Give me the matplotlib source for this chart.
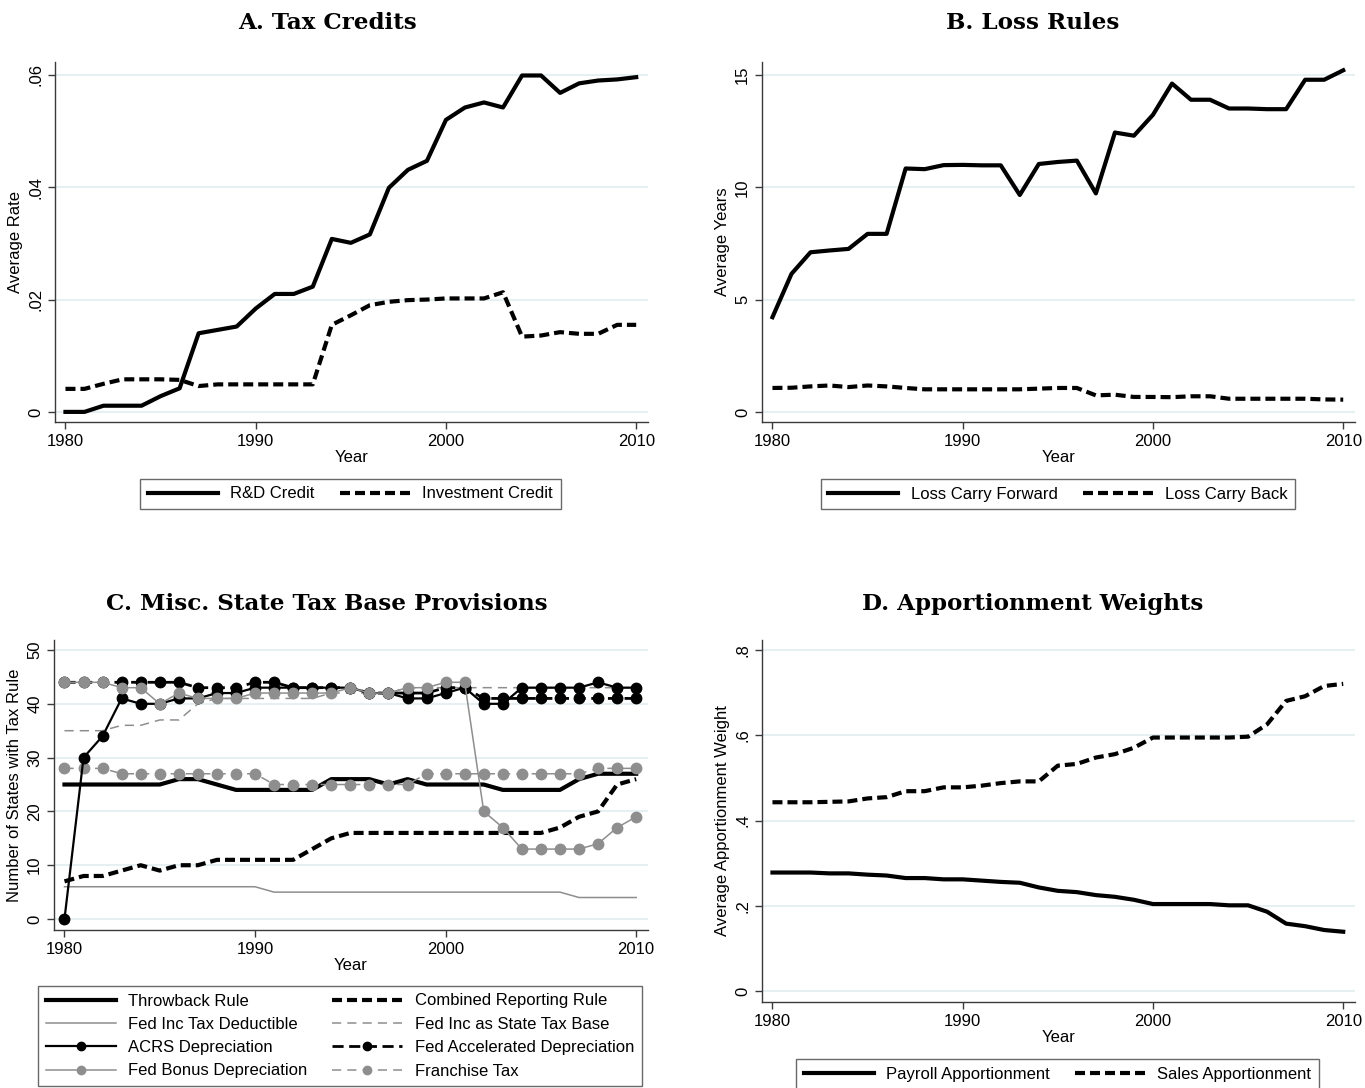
import numpy as np
import matplotlib
matplotlib.use('Agg')
import matplotlib.pyplot as plt

plt.rcParams['font.family'] = ['Liberation Sans', 'DejaVu Sans']

years = np.arange(1980, 2011)

# A. Tax Credits
rd_credit = [0.0, 0.0, 0.0011, 0.0011, 0.0011, 0.0028, 0.0042, 0.0140, 0.0146, 0.0152,
             0.0184, 0.0210, 0.0210, 0.0223, 0.0308, 0.0301, 0.0316, 0.0399, 0.0431, 0.0447,
             0.0520, 0.0542, 0.0551, 0.0542, 0.0599, 0.0599, 0.0568, 0.0585, 0.0590, 0.0592,
             0.0596]
inv_credit = [0.0041, 0.0041, 0.0050, 0.0058, 0.0058, 0.0058, 0.0057, 0.0046, 0.0049, 0.0049,
              0.0049, 0.0049, 0.0049, 0.0049, 0.0155, 0.0172, 0.0190, 0.0196, 0.0199, 0.0200,
              0.0202, 0.0202, 0.0202, 0.0213, 0.0134, 0.0136, 0.0142, 0.0139, 0.0139, 0.0155,
              0.0155]

# B. Loss Rules
loss_fwd = [4.22, 6.15, 7.11, 7.19, 7.26, 7.93, 7.93, 10.84, 10.81, 10.99,
            11.00, 10.98, 10.98, 9.66, 11.04, 11.13, 11.19, 9.73, 12.44, 12.30,
            13.23, 14.62, 13.90, 13.90, 13.51, 13.51, 13.48, 13.48, 14.79, 14.79,
            15.21]
loss_back = [1.07, 1.08, 1.14, 1.18, 1.11, 1.18, 1.14, 1.07, 1.01, 1.01,
             1.01, 1.01, 1.01, 1.01, 1.04, 1.07, 1.07, 0.74, 0.77, 0.67,
             0.67, 0.66, 0.70, 0.70, 0.59, 0.59, 0.59, 0.59, 0.59, 0.56,
             0.55]

# C. Misc. State Tax Base Provisions
throwback = [25, 25, 25, 25, 25, 25, 26, 26, 25, 24,
             24, 24, 24, 24, 26, 26, 26, 25, 26, 25,
             25, 25, 25, 24, 24, 24, 24, 26, 27, 27,
             27]
combined = [7, 8, 8, 9, 10, 9, 10, 10, 11, 11,
            11, 11, 11, 13, 15, 16, 16, 16, 16, 16,
            16, 16, 16, 16, 16, 16, 17, 19, 20, 25,
            26]
fedinc_deduct = [6, 6, 6, 6, 6, 6, 6, 6, 6, 6,
                 6, 5, 5, 5, 5, 5, 5, 5, 5, 5,
                 5, 5, 5, 5, 5, 5, 5, 4, 4, 4,
                 4]
fedinc_base = [35, 35, 35, 36, 36, 37, 37, 40, 41, 41,
               41, 41, 41, 41, 42, 42, 42, 42, 43, 43,
               43, 43, 43, 43, 43, 43, 43, 43, 43, 43,
               43]
acrs = [0, 30, 34, 41, 40, 40, 41, 41, 42, 42,
        43, 43, 43, 43, 43, 43, 42, 42, 41, 41,
        42, 43, 40, 40, 43, 43, 43, 43, 44, 43,
        43]
fed_accel = [44, 44, 44, 44, 44, 44, 44, 43, 43, 43,
             44, 44, 43, 43, 43, 43, 42, 42, 42, 42,
             43, 43, 41, 41, 41, 41, 41, 41, 41, 41,
             41]
fed_bonus = [44, 44, 44, 43, 43, 40, 42, 41, 41, 41,
             42, 42, 42, 42, 42, 43, 42, 42, 43, 43,
             44, 44, 20, 17, 13, 13, 13, 13, 14, 17,
             19]
franchise = [28, 28, 28, 27, 27, 27, 27, 27, 27, 27,
             27, 25, 25, 25, 25, 25, 25, 25, 25, 27,
             27, 27, 27, 27, 27, 27, 27, 27, 28, 28,
             28]

# D. Apportionment Weights
payroll = [0.278, 0.278, 0.278, 0.276, 0.276, 0.273, 0.271, 0.265, 0.265, 0.262,
           0.262, 0.259, 0.256, 0.254, 0.243, 0.235, 0.232, 0.225, 0.221, 0.214,
           0.204, 0.204, 0.204, 0.204, 0.201, 0.201, 0.186, 0.158, 0.152, 0.143,
           0.139]
sales = [0.443, 0.443, 0.443, 0.444, 0.445, 0.452, 0.455, 0.469, 0.469, 0.478,
         0.478, 0.482, 0.488, 0.492, 0.492, 0.529, 0.533, 0.548, 0.556, 0.571,
         0.595, 0.595, 0.595, 0.595, 0.595, 0.597, 0.626, 0.681, 0.692, 0.716,
         0.721]

xticks = [1980, 1990, 2000, 2010]
a_ticks = [0, 0.02, 0.04, 0.06]
a_labels = ['0', '.02', '.04', '.06']
b_ticks = [0, 5, 10, 15]
c_ticks = [0, 10, 20, 30, 40, 50]
d_ticks = [0, 0.2, 0.4, 0.6, 0.8]
d_labels = ['0', '.2', '.4', '.6', '.8']

W, H = 1365, 1088
GRAY = '#8e8e8e'
GRID = '#e4eef0'
SPINE = '#3a3a3a'


def px_axes(fig, x0, y0, x1, y1):
    return fig.add_axes([x0 / W, 1 - y1 / H, (x1 - x0) / W, (y1 - y0) / H])


def style(ax, yticks, ylabels, ylim, ylabel):
    ax.set_xlim(1979.45, 2010.62)
    ax.set_ylim(*ylim)
    ax.set_xticks(xticks)
    ax.set_yticks(yticks)
    ax.set_yticklabels(ylabels, rotation=90, va='center')
    ax.tick_params(labelsize=12, length=5, color=SPINE, width=1)
    for s in ['top', 'right']:
        ax.spines[s].set_visible(False)
    for s in ['left', 'bottom']:
        ax.spines[s].set_color(SPINE)
        ax.spines[s].set_linewidth(1)
    ax.yaxis.grid(True, color=GRID, lw=1.3)
    ax.set_axisbelow(True)
    ax.set_xlabel('Year', fontsize=12, labelpad=1)
    ax.set_ylabel(ylabel, fontsize=12, labelpad=4)


def legend(fig, handles, labels, x0, y0, x1, y1, ncol, spacing=0.25):
    lg = fig.legend(handles, labels, ncol=ncol, loc='center',
                    bbox_to_anchor=((x0 + x1) / 2 / W, 1 - (y0 + y1) / 2 / H),
                    bbox_transform=fig.transFigure, fontsize=12, frameon=True,
                    fancybox=False, edgecolor='#444444', handlelength=4.2,
                    columnspacing=1.5, handletextpad=0.75, labelspacing=spacing,
                    borderpad=0.45)
    lg.get_frame().set_linewidth(1)
    return lg


fig = plt.figure(figsize=(W / 100, H / 100), dpi=100)
tfont = dict(family='DejaVu Serif', fontweight='bold', fontsize=16.6, ha='center', va='center')

thick_dash = (0, (2.4, 1.2))

# Panel A
ax = px_axes(fig, 55, 62, 648, 422)
style(ax, a_ticks, a_labels, (-0.0018, 0.0623), 'Average Rate')
la, = ax.plot(years, rd_credit, color='black', lw=3)
lb, = ax.plot(years, inv_credit, color='black', lw=3, linestyle=thick_dash)
fig.text(327 / W, 1 - 23 / H, 'A. Tax Credits', **tfont)
legend(fig, [la, lb], ['R&D Credit', 'Investment Credit'], 143, 478, 558, 510, 2)

# Panel B
ax = px_axes(fig, 762, 62, 1355, 422)
style(ax, b_ticks, [str(t) for t in b_ticks], (-0.445, 15.58), 'Average Years')
la, = ax.plot(years, loss_fwd, color='black', lw=3)
lb, = ax.plot(years, loss_back, color='black', lw=3, linestyle=thick_dash)
fig.text(1033 / W, 1 - 23 / H, 'B. Loss Rules', **tfont)
legend(fig, [la, lb], ['Loss Carry Forward', 'Loss Carry Back'], 821, 478, 1295, 510, 2)

# Panel C
ax = px_axes(fig, 54, 640, 648, 930)
style(ax, c_ticks, [str(t) for t in c_ticks], (-2.04, 51.86), 'Number of States with Tax Rule')
h1, = ax.plot(years, throwback, color='black', lw=3)
h2, = ax.plot(years, combined, color='black', lw=3, linestyle=thick_dash)
h3, = ax.plot(years, fedinc_deduct, color=GRAY, lw=1.1)
h4, = ax.plot(years, fedinc_base, color=GRAY, lw=1.1, linestyle=(0, (6, 4)))
h8, = ax.plot(years, franchise, color=GRAY, lw=1.1, linestyle=(0, (6, 4)),
              marker='o', ms=7.5, mfc=GRAY, mec=GRAY)
h6, = ax.plot(years, fed_accel, color='black', lw=2, linestyle=(0, (4, 2)),
              marker='o', ms=7.5, mfc='black', mec='black')
h5, = ax.plot(years, acrs, color='black', lw=1.6, marker='o', ms=7.5, mfc='black', mec='black')
h7, = ax.plot(years, fed_bonus, color=GRAY, lw=1.1, marker='o', ms=7.5, mfc=GRAY, mec=GRAY)
fig.text(327 / W, 1 - 604 / H, 'C. Misc. State Tax Base Provisions', **tfont)
lh = [h1, h3, h5, h7, h2, h4, h6, h8]
ll = ['Throwback Rule', 'Fed Inc Tax Deductible', 'ACRS Depreciation', 'Fed Bonus Depreciation',
      'Combined Reporting Rule', 'Fed Inc as State Tax Base', 'Fed Accelerated Depreciation',
      'Franchise Tax']
lg = legend(fig, lh, ll, 40, 981, 640, 1091, 2, spacing=0.5)
for h in lg.legend_handles:
    h.set_markersize(6)

# Panel D
ax = px_axes(fig, 762, 640, 1355, 1002)
style(ax, d_ticks, d_labels, (-0.026, 0.824), 'Average Apportionment Weight')
la, = ax.plot(years, payroll, color='black', lw=3)
lb, = ax.plot(years, sales, color='black', lw=3, linestyle=thick_dash)
fig.text(1033 / W, 1 - 604 / H, 'D. Apportionment Weights', **tfont)
legend(fig, [la, lb], ['Payroll Apportionment', 'Sales Apportionment'], 795, 1058, 1320, 1090, 2)

fig.savefig('out.png', dpi=100)
